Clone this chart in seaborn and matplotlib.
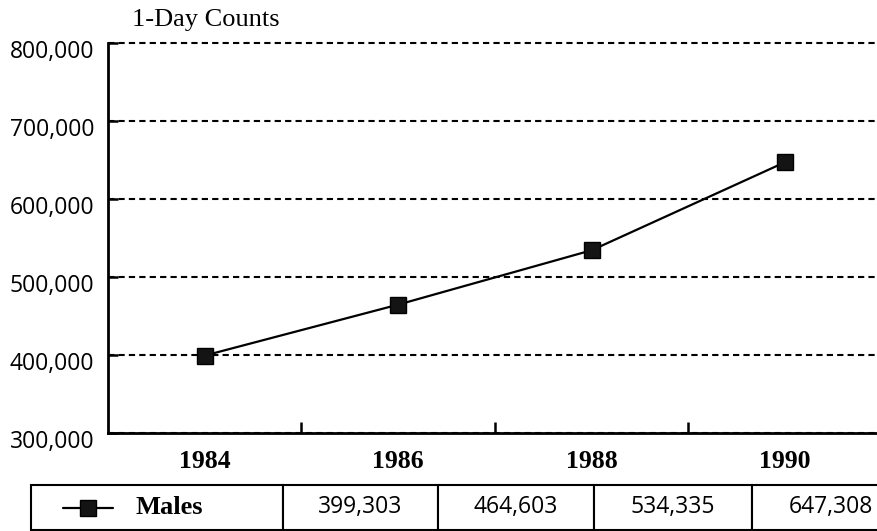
import matplotlib
matplotlib.use("Agg")
import matplotlib.pyplot as plt
import matplotlib.transforms as mtransforms
from matplotlib.lines import Line2D
import seaborn as sns
import pandas as pd

# data
years = ["1984", "1986", "1988", "1990"]
males = [399303, 464603, 534335, 647308]
series_name = "Males"
y_ticks = [300000, 400000, 500000, 600000, 700000, 800000]
title = "1-Day Counts"

df = pd.DataFrame({"year": years, "count": males})

sns.set_style("ticks")
plt.rcParams["font.family"] = ["Liberation Serif", "DejaVu Serif"]
plt.rcParams["text.color"] = "black"
plt.rcParams["xtick.color"] = "black"
plt.rcParams["ytick.color"] = "black"

W, H = 878, 531
fig = plt.figure(figsize=(W / 100, H / 100), dpi=100)

# axes placed in pixel terms: left 108, right 882 (cut off), top 43, bottom 433
ax_l, ax_r, ax_t, ax_b = 108, 882, 43, 433
ax = fig.add_axes([ax_l / W, 1 - ax_b / H, (ax_r - ax_l) / W, (ax_b - ax_t) / H])

sns.lineplot(data=df, x="year", y="count", ax=ax, color="black", linewidth=1.6,
             marker="s", markersize=11, markerfacecolor="#141414",
             markeredgecolor="black", markeredgewidth=1, zorder=5)

ax.set_xlim(-0.5, 3.5)
ax.set_ylim(y_ticks[0], y_ticks[-1])
ax.set_xlabel("")
ax.set_ylabel("")

# y axis
ax.set_yticks(y_ticks)
ax.set_yticklabels([f"{v:,}" for v in y_ticks], fontfamily="Open Sans", fontsize=16.5,
                   color="black")
ax.tick_params(axis="y", direction="in", length=7, width=1.8, pad=10)
shift = mtransforms.ScaledTranslation(0, -6 / 100, fig.dpi_scale_trans)
for lab in ax.get_yticklabels():
    lab.set_transform(lab.get_transform() + shift)
ax.yaxis.grid(True, linestyle=(0, (3, 2)), color="black", linewidth=1.5)
for gl in ax.get_ygridlines():
    gl.set_clip_on(False)
ax.xaxis.grid(False)

# x axis: labels at category centres, ticks between categories
ax.set_xticks(range(len(years)))
ax.set_xticklabels(years, fontweight="bold", fontsize=18.5, color="black")
ax.tick_params(axis="x", which="major", length=0, pad=12)
ax.set_xticks([i + 0.5 for i in range(len(years) - 1)], minor=True)
ax.tick_params(axis="x", which="minor", direction="in", length=8, width=1.8)

for s in ["top", "right"]:
    ax.spines[s].set_visible(False)
for s in ["left", "bottom"]:
    ax.spines[s].set_linewidth(2)
    ax.spines[s].set_color("black")

fig.text(132 / W, 1 - 20 / H, title, fontsize=19, va="center", ha="left", color="black")

# data table underneath
col_edges = [31, 283, 438, 594, 752, 910]
tb_top, tb_bot = 485, 530
ax_w, ax_h = ax_r - ax_l, ax_b - ax_t
col_w = [(col_edges[i + 1] - col_edges[i]) / ax_w for i in range(len(col_edges) - 1)]
bbox = [(col_edges[0] - ax_l) / ax_w, (ax_b - tb_bot) / ax_h,
        (col_edges[-1] - col_edges[0]) / ax_w, (tb_bot - tb_top) / ax_h]
cell_text = [[series_name] + [f"{v:,}" for v in males]]
tbl = ax.table(cellText=cell_text, colWidths=col_w, bbox=bbox, cellLoc="center")
tbl.auto_set_font_size(False)
for (r, c), cell in tbl.get_celld().items():
    cell.set_linewidth(1.5)
    cell.set_edgecolor("black")
    cell.get_text().set_color("black")
    if c == 0:
        cell.PAD = 104 / (col_edges[1] - col_edges[0])
        cell._loc = "left"
        cell.get_text().set_ha("left")
        cell.get_text().set_fontsize(19)
        cell.get_text().set_fontweight("bold")
        cell.get_text().set_fontfamily(["Liberation Serif"])
    else:
        cell.get_text().set_fontsize(16.5)
        cell.get_text().set_fontfamily(["Open Sans"])

# legend key inside the first cell
ky = 1 - 508 / H
fig.add_artist(Line2D([63 / W, 113 / W], [ky, ky], color="black", linewidth=1.6,
                      transform=fig.transFigure))
fig.add_artist(Line2D([88 / W], [ky], color="black", marker="s", markersize=11,
                      markerfacecolor="#141414", linestyle="none",
                      transform=fig.transFigure))

fig.savefig("out.png", dpi=100)
